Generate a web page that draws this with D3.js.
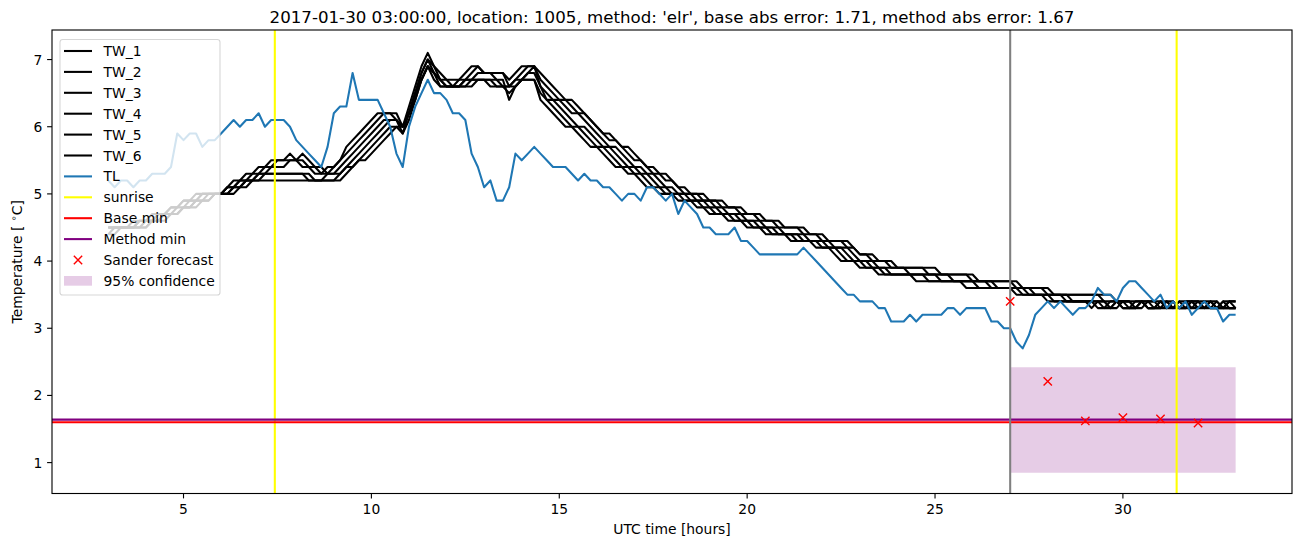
<!DOCTYPE html>
<html><head><meta charset="utf-8">
<script src="https://cdn.jsdelivr.net/npm/d3@7"></script>
<style>body{margin:0;background:#fff} svg{display:block} text{font-family:"DejaVu Sans",sans-serif;fill:#000}</style>
</head><body><svg id="chart" width="1302" height="547"></svg>
<script>
// ---------------- data ----------------
const titleText = "2017-01-30 03:00:00, location: 1005, method: 'elr', base abs error: 1.71, method abs error: 1.67";
const startHour = 3;          // first sample (UTC hours)
const stepHours = 1 / 6;      // 10-minute sampling

const TW_1 = [
 4.5,4.5,4.5,4.5,4.6,4.6, 4.6,4.7,4.7,4.7,4.8,4.8, 4.9,4.9,5.0,5.0,5.0,5.0, 5.0,5.1,5.2,5.2,5.3,5.3,
 5.4,5.4,5.5,5.5,5.5,5.6, 5.5,5.6,5.5,5.4,5.4,5.3, 5.4,5.5,5.7,5.8,5.9,6.0, 6.1,6.2,6.2,6.2,6.2,6.0,
 6.3,6.6,6.9,7.1,6.9,6.8, 6.7,6.7,6.7,6.8,6.9,6.9, 6.8,6.8,6.8,6.8,6.7,6.8, 6.9,6.9,6.9,6.8,6.7,6.6,
 6.5,6.4,6.4,6.3,6.2,6.1, 6.0,5.9,5.9,5.8,5.7,5.7, 5.6,5.5,5.4,5.4,5.3,5.3, 5.2,5.1,5.1,5.0,5.0,5.0,
 4.9,4.9,4.9,4.8,4.8,4.8, 4.7,4.7,4.7,4.6,4.6,4.6, 4.5,4.5,4.5,4.5,4.4,4.4, 4.4,4.3,4.3,4.3,4.3,4.2,
 4.1,4.1,4.1,4.0,4.0,4.0, 3.9,3.9,3.9,3.9,3.9,3.9, 3.9,3.8,3.8,3.8,3.8,3.8, 3.8,3.7,3.7,3.7,3.7,3.7,
 3.7,3.7,3.6,3.6,3.6,3.6, 3.6,3.5,3.5,3.5,3.5,3.5, 3.5,3.5,3.5,3.5,3.5,3.4, 3.4,3.4,3.4,3.4,3.4,3.4,
 3.4,3.4,3.3,3.4,3.4,3.4, 3.4,3.4,3.4,3.3,3.4,3.4, 3.4];
const TW_2 = [
 4.5,4.5,4.5,4.5,4.5,4.6, 4.6,4.6,4.7,4.7,4.7,4.8, 4.8,4.9,4.9,5.0,5.0,5.0, 5.0,5.1,5.1,5.2,5.2,5.3,
 5.3,5.4,5.4,5.5,5.5,5.5, 5.5,5.5,5.4,5.4,5.3,5.4, 5.4,5.5,5.6,5.7,5.8,5.9, 6.0,6.1,6.2,6.2,6.1,6.0,
 6.2,6.5,6.8,7.0,6.9,6.7, 6.7,6.6,6.6,6.7,6.8,6.9, 6.8,6.8,6.8,6.8,6.6,6.7, 6.8,6.9,6.9,6.7,6.6,6.5,
 6.4,6.4,6.3,6.2,6.2,6.1, 6.0,5.9,5.8,5.8,5.7,5.6, 5.5,5.5,5.4,5.3,5.3,5.2, 5.2,5.1,5.0,5.0,5.0,4.9,
 4.9,4.9,4.8,4.8,4.8,4.7, 4.7,4.7,4.6,4.6,4.6,4.5, 4.5,4.5,4.5,4.4,4.4,4.4, 4.3,4.3,4.3,4.3,4.2,4.2,
 4.1,4.1,4.0,4.0,4.0,3.9, 3.9,3.9,3.9,3.9,3.9,3.8, 3.8,3.8,3.8,3.8,3.8,3.8, 3.7,3.7,3.7,3.7,3.7,3.7,
 3.7,3.6,3.6,3.6,3.6,3.6, 3.5,3.5,3.5,3.5,3.5,3.5, 3.5,3.5,3.5,3.4,3.4,3.4, 3.4,3.4,3.3,3.4,3.4,3.4,
 3.3,3.4,3.4,3.3,3.4,3.4, 3.4,3.3,3.4,3.4,3.3,3.4, 3.4];
const TW_3 = [
 4.5,4.5,4.5,4.5,4.5,4.5, 4.6,4.6,4.6,4.7,4.7,4.7, 4.8,4.8,4.9,4.9,5.0,5.0, 5.0,5.0,5.1,5.1,5.2,5.2,
 5.3,5.3,5.4,5.4,5.4,5.5, 5.5,5.4,5.4,5.3,5.3,5.3, 5.3,5.4,5.5,5.6,5.7,5.8, 5.9,6.0,6.1,6.1,6.1,5.9,
 6.2,6.5,6.8,7.0,6.8,6.7, 6.6,6.6,6.6,6.7,6.7,6.8, 6.8,6.8,6.7,6.7,6.4,6.6, 6.7,6.8,6.9,6.6,6.5,6.4,
 6.4,6.3,6.2,6.2,6.1,6.0, 5.9,5.8,5.7,5.7,5.6,5.5, 5.4,5.4,5.3,5.3,5.2,5.1, 5.1,5.0,5.0,5.0,4.9,4.9,
 4.9,4.8,4.8,4.7,4.7,4.7, 4.6,4.6,4.6,4.5,4.5,4.5, 4.4,4.4,4.4,4.4,4.3,4.3, 4.3,4.3,4.2,4.2,4.2,4.1,
 4.0,4.0,4.0,3.9,3.9,3.9, 3.9,3.9,3.8,3.8,3.8,3.8, 3.8,3.8,3.8,3.7,3.7,3.7, 3.7,3.7,3.7,3.7,3.6,3.6,
 3.6,3.6,3.6,3.6,3.5,3.5, 3.5,3.5,3.5,3.5,3.4,3.4, 3.4,3.4,3.4,3.4,3.3,3.4, 3.4,3.3,3.3,3.4,3.3,3.3,
 3.4,3.3,3.3,3.4,3.3,3.4, 3.3,3.3,3.4,3.3,3.3,3.4, 3.3];
const TW_4 = [
 4.4,4.5,4.5,4.5,4.5,4.5, 4.5,4.6,4.6,4.6,4.7,4.7, 4.8,4.8,4.8,4.9,4.9,5.0, 5.0,5.0,5.0,5.1,5.1,5.2,
 5.2,5.3,5.3,5.3,5.3,5.3, 5.3,5.3,5.3,5.2,5.2,5.3, 5.3,5.3,5.4,5.5,5.6,5.7, 5.8,5.9,6.0,6.1,6.1,6.0,
 6.2,6.4,6.7,6.9,6.8,6.7, 6.6,6.6,6.7,6.7,6.7,6.7, 6.7,6.7,6.7,6.6,6.5,6.6, 6.7,6.8,6.8,6.6,6.4,6.4,
 6.3,6.2,6.1,6.0,6.0,5.9, 5.8,5.7,5.7,5.6,5.5,5.4, 5.4,5.3,5.3,5.2,5.1,5.1, 5.0,5.0,5.0,4.9,4.9,4.9,
 4.8,4.8,4.7,4.7,4.7,4.6, 4.6,4.6,4.5,4.5,4.5,4.4, 4.4,4.4,4.4,4.3,4.3,4.3, 4.3,4.2,4.2,4.2,4.1,4.0,
 4.0,4.0,3.9,3.9,3.9,3.8, 3.8,3.8,3.8,3.8,3.8,3.8, 3.8,3.7,3.7,3.7,3.7,3.7, 3.7,3.7,3.7,3.6,3.6,3.6,
 3.6,3.6,3.6,3.5,3.5,3.5, 3.5,3.5,3.5,3.4,3.4,3.4, 3.4,3.4,3.4,3.3,3.4,3.4, 3.3,3.3,3.4,3.4,3.3,3.3,
 3.4,3.3,3.4,3.3,3.3,3.4, 3.3,3.4,3.3,3.3,3.4,3.3, 3.3];
const TW_5 = [
 4.5,4.5,4.5,4.5,4.5,4.6, 4.6,4.6,4.7,4.7,4.8,4.8, 4.9,4.9,4.9,5.0,5.0,5.0, 5.0,5.1,5.1,5.2,5.2,5.2,
 5.3,5.3,5.3,5.3,5.3,5.3, 5.3,5.3,5.2,5.2,5.2,5.2, 5.2,5.3,5.4,5.4,5.5,5.6, 5.7,5.8,5.9,6.0,6.0,5.9,
 6.1,6.4,6.7,6.9,6.8,6.6, 6.6,6.6,6.6,6.6,6.7,6.7, 6.7,6.7,6.6,6.6,6.6,6.7, 6.7,6.7,6.7,6.5,6.4,6.3,
 6.2,6.1,6.0,6.0,5.9,5.8, 5.7,5.7,5.6,5.5,5.4,5.4, 5.3,5.3,5.2,5.1,5.1,5.0, 5.0,5.0,4.9,4.9,4.9,4.8,
 4.8,4.7,4.7,4.7,4.6,4.6, 4.6,4.5,4.5,4.5,4.4,4.4, 4.4,4.4,4.3,4.3,4.3,4.3, 4.2,4.2,4.2,4.1,4.0,4.0,
 4.0,3.9,3.9,3.9,3.8,3.8, 3.8,3.8,3.8,3.8,3.8,3.7, 3.7,3.7,3.7,3.7,3.7,3.7, 3.7,3.6,3.6,3.6,3.6,3.6,
 3.6,3.6,3.5,3.5,3.5,3.5, 3.5,3.4,3.4,3.4,3.4,3.4, 3.4,3.3,3.4,3.4,3.3,3.3, 3.4,3.4,3.3,3.3,3.4,3.3,
 3.3,3.4,3.3,3.3,3.4,3.3, 3.4,3.3,3.3,3.4,3.3,3.3, 3.3];
const TW_6 = [
 4.4,4.4,4.5,4.5,4.5,4.5, 4.5,4.6,4.6,4.7,4.7,4.7, 4.8,4.8,4.9,4.9,4.9,5.0, 5.0,5.0,5.1,5.1,5.2,5.2,
 5.2,5.2,5.2,5.2,5.2,5.2, 5.2,5.2,5.2,5.2,5.2,5.2, 5.2,5.2,5.3,5.4,5.5,5.5, 5.6,5.7,5.8,5.9,6.0,6.0,
 6.2,6.5,6.7,6.9,6.7,6.6, 6.6,6.6,6.6,6.6,6.6,6.7, 6.7,6.6,6.6,6.6,6.6,6.6, 6.7,6.7,6.7,6.4,6.3,6.2,
 6.1,6.0,6.0,5.9,5.8,5.7, 5.7,5.6,5.5,5.4,5.4,5.3, 5.3,5.2,5.1,5.1,5.0,5.0, 5.0,4.9,4.9,4.9,4.8,4.8,
 4.7,4.7,4.7,4.6,4.6,4.6, 4.5,4.5,4.5,4.4,4.4,4.4, 4.4,4.3,4.3,4.3,4.3,4.2, 4.2,4.2,4.1,4.0,4.0,4.0,
 3.9,3.9,3.9,3.8,3.8,3.8, 3.8,3.8,3.8,3.7,3.7,3.7, 3.7,3.7,3.7,3.7,3.7,3.6, 3.6,3.6,3.6,3.6,3.6,3.6,
 3.6,3.5,3.5,3.5,3.5,3.5, 3.4,3.4,3.4,3.4,3.4,3.4, 3.4,3.4,3.3,3.3,3.3,3.4, 3.3,3.3,3.3,3.4,3.3,3.3,
 3.3,3.3,3.4,3.3,3.3,3.3, 3.3,3.4,3.3,3.3,3.3,3.3, 3.3];
const TL = [
 5.2,5.1,5.2,5.2,5.1,5.2, 5.2,5.3,5.3,5.3,5.4,5.9, 5.8,5.9,5.9,5.7,5.8,5.8, 5.9,6.0,6.1,6.0,6.1,6.1,
 6.2,6.0,6.1,6.1,6.1,6.0, 5.8,5.7,5.6,5.5,5.4,5.7, 6.2,6.3,6.3,6.8,6.4,6.4, 6.4,6.4,6.2,6.0,5.6,5.4,
 6.0,6.3,6.5,6.7,6.5,6.5, 6.4,6.2,6.2,6.1,5.6,5.4, 5.1,5.2,4.9,4.9,5.1,5.6, 5.5,5.6,5.7,5.6,5.5,5.4,
 5.4,5.4,5.3,5.2,5.3,5.2, 5.2,5.1,5.1,5.0,4.9,5.0, 5.0,4.9,5.1,5.1,5.0,4.9, 5.0,4.7,4.9,4.8,4.7,4.5,
 4.5,4.4,4.4,4.4,4.5,4.3, 4.3,4.2,4.1,4.1,4.1,4.1, 4.1,4.1,4.1,4.2,4.1,4.0, 3.9,3.8,3.7,3.6,3.5,3.5,
 3.4,3.4,3.4,3.3,3.3,3.1, 3.1,3.1,3.2,3.1,3.2,3.2, 3.2,3.2,3.3,3.3,3.2,3.3, 3.3,3.3,3.3,3.1,3.1,3.0,
 3.0,2.8,2.7,2.9,3.2,3.3, 3.4,3.3,3.4,3.3,3.2,3.3, 3.3,3.4,3.6,3.5,3.5,3.4, 3.6,3.7,3.7,3.6,3.5,3.4,
 3.5,3.3,3.4,3.3,3.4,3.2, 3.3,3.4,3.3,3.3,3.1,3.2, 3.2];

const sunriseTimes = [7.43, 31.43];
const forecastStart = 27.0;
const baseMin = 1.60;
const methodMin = 1.64;
const sanderTimes = [27, 28, 29, 30, 31, 32];
const sanderValues = [3.40, 2.21, 1.62, 1.67, 1.65, 1.59];
const confTimes = [27, 33];
const confLow = [0.85, 0.85];
const confHigh = [2.42, 2.42];
const xTicks = [5, 10, 15, 20, 25, 30];
const yTicks = [1, 2, 3, 4, 5, 6, 7];
const twNames = ["TW_1", "TW_2", "TW_3", "TW_4", "TW_5", "TW_6"];
const twSeries = [TW_1, TW_2, TW_3, TW_4, TW_5, TW_6];

// ---------------- layout ----------------
const L = 52, R = 1292, T = 30, B = 493.5;
const fs = 13.89;
const lw = 2.08;   // 1.5pt at 100 dpi
const svg = d3.select("#chart");
const x = d3.scaleLinear().domain([1.5, 34.5]).range([L, R]);
const y = d3.scaleLinear().domain([0.54, 7.44]).range([B, T]);

svg.append("defs").append("clipPath").attr("id", "clip")
  .append("rect").attr("x", L).attr("y", T).attr("width", R - L).attr("height", B - T);
const plot = svg.append("g").attr("clip-path", "url(#clip)");

// confidence band
const area = d3.area().x(d => x(d[0])).y0(d => y(d[1])).y1(d => y(d[2]));
plot.append("path").datum(confTimes.map((t, i) => [t, confLow[i], confHigh[i]]))
  .attr("d", area).attr("fill", "purple").attr("fill-opacity", 0.2);

const line = d3.line().x((d, i) => x(startHour + i * stepHours)).y(d => y(d));
twSeries.forEach(s => {
  plot.append("path").datum(s).attr("d", line).attr("fill", "none")
    .attr("stroke", "#000").attr("stroke-width", lw).attr("stroke-linejoin", "round");
});
plot.append("path").datum(TL).attr("d", line).attr("fill", "none")
  .attr("stroke", "#1f77b4").attr("stroke-width", lw).attr("stroke-linejoin", "round");

sunriseTimes.forEach(t => {
  plot.append("line").attr("x1", x(t)).attr("x2", x(t)).attr("y1", T).attr("y2", B)
    .attr("stroke", "#ffff00").attr("stroke-width", lw);
});
plot.append("line").attr("x1", L).attr("x2", R).attr("y1", y(baseMin)).attr("y2", y(baseMin))
  .attr("stroke", "red").attr("stroke-width", lw);
plot.append("line").attr("x1", L).attr("x2", R).attr("y1", y(methodMin)).attr("y2", y(methodMin))
  .attr("stroke", "purple").attr("stroke-width", lw);
plot.append("line").attr("x1", x(forecastStart)).attr("x2", x(forecastStart)).attr("y1", T).attr("y2", B)
  .attr("stroke", "grey").attr("stroke-width", lw);

const xMark = (g, cx, cy) => {
  const h = 4.17;
  g.append("path").attr("d", `M${cx - h},${cy - h}L${cx + h},${cy + h}M${cx - h},${cy + h}L${cx + h},${cy - h}`)
    .attr("stroke", "red").attr("stroke-width", 1.39).attr("fill", "none");
};
sanderTimes.forEach((t, i) => xMark(plot, x(t), y(sanderValues[i])));

// ---------------- axes ----------------
svg.append("rect").attr("x", L).attr("y", T).attr("width", R - L).attr("height", B - T)
  .attr("fill", "none").attr("stroke", "#000").attr("stroke-width", 1.11);

xTicks.forEach(t => {
  svg.append("line").attr("x1", x(t)).attr("x2", x(t)).attr("y1", B).attr("y2", B + 4.9)
    .attr("stroke", "#000").attr("stroke-width", 1.11);
  svg.append("text").attr("x", x(t)).attr("y", B + 9.7).attr("dy", "0.76em")
    .attr("text-anchor", "middle").attr("font-size", fs).text(t);
});
yTicks.forEach(v => {
  svg.append("line").attr("x1", L - 4.9).attr("x2", L).attr("y1", y(v)).attr("y2", y(v))
    .attr("stroke", "#000").attr("stroke-width", 1.11);
  svg.append("text").attr("x", L - 9.7).attr("y", y(v)).attr("dy", "0.36em")
    .attr("text-anchor", "end").attr("font-size", fs).text(v);
});

svg.append("text").attr("x", (L + R) / 2).attr("y", 534).attr("text-anchor", "middle")
  .attr("font-size", fs).text("UTC time [hours]");
const yl = svg.append("text").attr("transform", `translate(22,${(T + B) / 2}) rotate(-90)`)
  .attr("text-anchor", "middle").attr("font-size", fs);
yl.append("tspan").text("Temperature [ ");
yl.append("tspan").attr("font-size", 9.7).attr("dy", -5).text("∘");
yl.append("tspan").attr("dy", 5).text("C]");

svg.append("text").attr("x", (L + R) / 2).attr("y", 23).attr("text-anchor", "middle")
  .attr("font-size", 16.67).text(titleText);

// ---------------- legend ----------------
const leg = svg.append("g");
leg.append("rect").attr("x", 60).attr("y", 39.5).attr("width", 160).attr("height", 255.5)
  .attr("rx", 2.8).attr("fill", "#fff").attr("fill-opacity", 0.8)
  .attr("stroke", "#cccccc").attr("stroke-opacity", 0.8).attr("stroke-width", 1.11);
const items = twNames.map(n => ({label: n, type: "line", color: "#000"}))
  .concat([
    {label: "TL", type: "line", color: "#1f77b4"},
    {label: "sunrise", type: "line", color: "#ffff00"},
    {label: "Base min", type: "line", color: "red"},
    {label: "Method min", type: "line", color: "purple"},
    {label: "Sander forecast", type: "marker", color: "red"},
    {label: "95% confidence", type: "patch", color: "purple"}
  ]);
items.forEach((it, k) => {
  const ry = 51 + k * 20.9;
  if (it.type === "line") {
    leg.append("line").attr("x1", 64).attr("x2", 92).attr("y1", ry).attr("y2", ry)
      .attr("stroke", it.color).attr("stroke-width", lw);
  } else if (it.type === "marker") {
    xMark(leg, 78, ry);
  } else {
    leg.append("rect").attr("x", 64).attr("y", ry - 4.9).attr("width", 28).attr("height", 9.7)
      .attr("fill", it.color).attr("fill-opacity", 0.2);
  }
  leg.append("text").attr("x", 103.5).attr("y", ry).attr("dy", "0.36em")
    .attr("font-size", fs).text(it.label);
});
</script></body></html>
